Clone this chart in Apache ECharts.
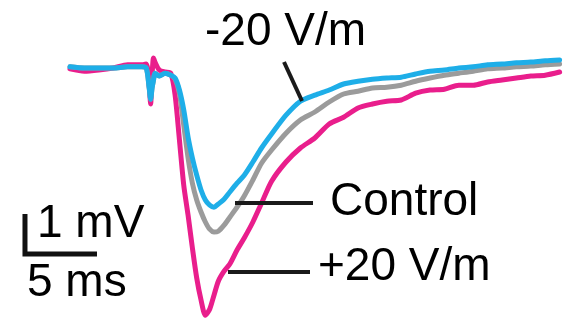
<!DOCTYPE html>
<html>
<head>
<meta charset="utf-8">
<script src="https://cdn.jsdelivr.net/npm/echarts@6/dist/echarts.min.js"></script>
<style>
html,body{margin:0;padding:0;background:#fff;}
#chart{width:572px;height:326px;}
</style>
</head>
<body>
<div id="chart"></div>
<script>
// time in ms, potentials in mV
var timeMs = [0,1,2,3,4,5,5.3,5.5,5.6,5.7,5.8,5.9,6.2,6.6,7.0,7.3,7.6,7.9,8.2,8.5,8.8,9.1,9.4,9.7,10.0,10.3,10.7,11.1,11.6,12.1,12.7,13.3,14.0,15,16,17,18,19,20,21,22,23,24,25,26,27,28,29,30,31,32,33,34];
var neg20 = [0.08,0.05,0.05,0.05,0.08,0.08,0.05,-0.45,-0.73,-0.45,-0.25,-0.08,-0.15,-0.08,-0.13,-0.2,-0.5,-1.0,-1.68,-2.2,-2.63,-3.0,-3.25,-3.38,-3.43,-3.35,-3.23,-3.05,-2.83,-2.63,-2.3,-1.95,-1.6,-1.13,-0.78,-0.63,-0.5,-0.35,-0.28,-0.23,-0.2,-0.18,-0.1,-0.03,0,0.05,0.08,0.13,0.15,0.18,0.2,0.23,0.25];
var control = [0.08,0.05,0.05,0.05,0.08,0.08,0.05,-0.45,-0.73,-0.45,-0.25,-0.08,-0.15,-0.08,-0.13,-0.23,-0.58,-1.38,-2.2,-2.83,-3.25,-3.55,-3.8,-3.98,-4.05,-4.03,-3.88,-3.68,-3.43,-3.15,-2.75,-2.33,-2.0,-1.58,-1.25,-1.05,-0.8,-0.6,-0.53,-0.45,-0.43,-0.38,-0.28,-0.2,-0.13,-0.08,-0.03,0.03,0.05,0.08,0.1,0.13,0.15];
var pos20 = [0.03,-0.03,0,0.05,0.13,0.13,0.15,-0.38,-0.85,-0.13,0.3,0.2,0,-0.05,-0.08,-0.63,-1.75,-2.88,-3.63,-4.45,-5.2,-5.75,-6.13,-5.98,-5.63,-5.28,-5.03,-4.85,-4.5,-4.2,-3.8,-3.33,-2.78,-2.3,-1.95,-1.7,-1.35,-1.18,-0.95,-0.85,-0.78,-0.75,-0.58,-0.5,-0.48,-0.38,-0.38,-0.3,-0.25,-0.2,-0.15,-0.13,-0.05];
var seriesNames = ['+20 V/m','Control','-20 V/m'];
var scaleBarMv = 1;   // vertical scale bar: 1 mV
var scaleBarMs = 5;   // horizontal scale bar: 5 ms
var scaleBarLabels = ['1 mV','5 ms'];

function pairs(v){ return timeMs.map(function(t,i){ return [t, v[i]]; }); }

var FONT = '"Liberation Sans", Arial, Helvetica, sans-serif';
var chart = echarts.init(document.getElementById('chart'), null, {renderer:'canvas'});

var barX0 = -3.125, barY0 = -4.6;
var option = {
  animation:false,
  backgroundColor:'#ffffff',
  grid:{left:0,right:0,top:0,bottom:0},
  xAxis:{type:'value',min:-4.86,max:34.86,show:false},
  yAxis:{type:'value',min:-6.4,max:1.75,show:false},
  series:[
    {name:seriesNames[0],type:'line',data:pairs(pos20),showSymbol:false,smooth:0.25,
     lineStyle:{color:'#E91E8C',width:5,join:'round',cap:'round'},z:2},
    {name:seriesNames[1],type:'line',data:pairs(control),showSymbol:false,smooth:0.25,
     lineStyle:{color:'#9B9B9B',width:5,join:'round',cap:'round'},z:3},
    {name:seriesNames[2],type:'line',data:pairs(neg20),showSymbol:false,smooth:0.25,
     lineStyle:{color:'#1EAEE8',width:5,join:'round',cap:'round'},z:4},
    {name:'scale',type:'line',showSymbol:false,clip:false,
     data:[[barX0,barY0+scaleBarMv],[barX0,barY0],[barX0+scaleBarMs,barY0]],
     lineStyle:{color:'#111',width:5,join:'miter',cap:'butt'},z:5}
  ],
  graphic:[
    {type:'line',z:100,shape:{x1:284,y1:62,x2:302,y2:101},style:{stroke:'#1a1a1a',lineWidth:4}},
    {type:'line',z:100,shape:{x1:235,y1:203,x2:313,y2:203},style:{stroke:'#1a1a1a',lineWidth:4}},
    {type:'line',z:100,shape:{x1:228,y1:272,x2:310,y2:272},style:{stroke:'#1a1a1a',lineWidth:4}},
    {type:'text',z:100,x:205,y:32,style:{text:seriesNames[2],font:'46px '+FONT,fill:'#000',verticalAlign:'middle',align:'left'}},
    {type:'text',z:100,x:330,y:202,style:{text:seriesNames[1],font:'46px '+FONT,fill:'#000',verticalAlign:'middle',align:'left'}},
    {type:'text',z:100,x:318,y:267,style:{text:seriesNames[0],font:'46px '+FONT,fill:'#000',verticalAlign:'middle',align:'left'}},
    {type:'text',z:100,x:37,y:224,style:{text:scaleBarLabels[0],font:'46px '+FONT,fill:'#000',verticalAlign:'middle',align:'left'}},
    {type:'text',z:100,x:27,y:283,style:{text:scaleBarLabels[1],font:'46px '+FONT,fill:'#000',verticalAlign:'middle',align:'left'}}
  ]
};
chart.setOption(option);
</script>
</body>
</html>
